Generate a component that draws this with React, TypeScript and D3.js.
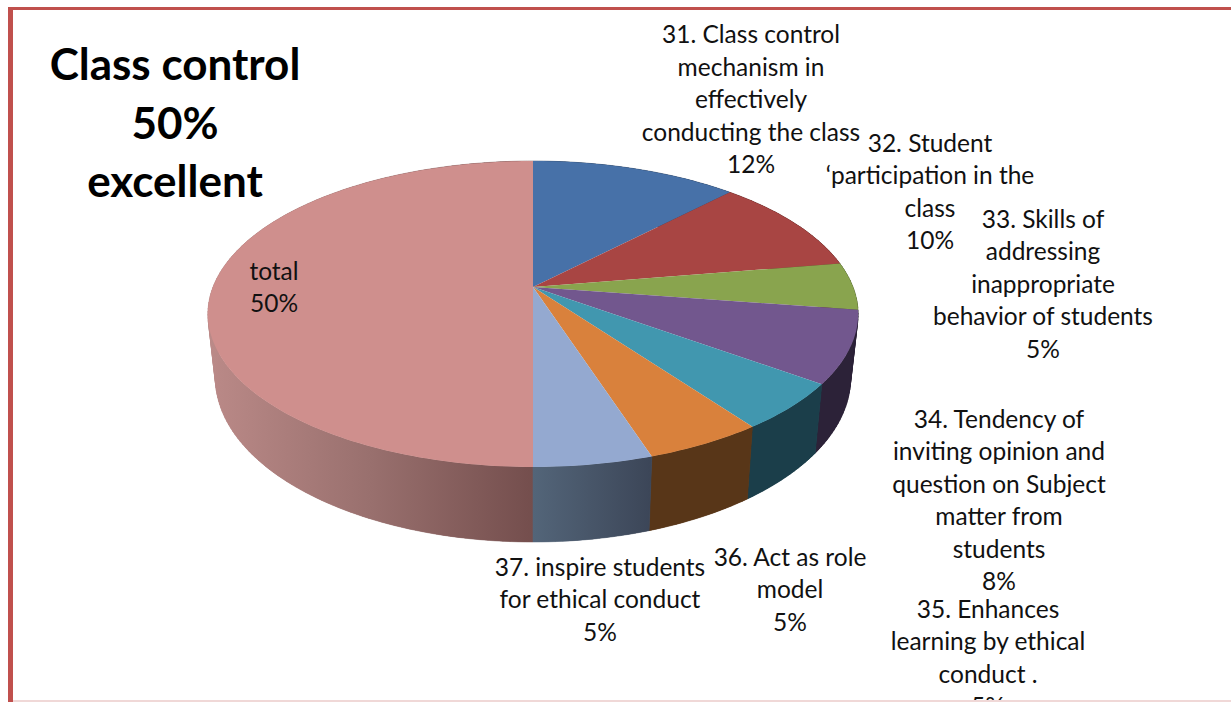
import * as React from "react";
import * as d3 from "d3";

// slice names as wrapped on the chart, values in percent
const labelLines = [
  ["31. Class control", "mechanism in", "effectively", "conducting the class", "12%"],
  ["32. Student", "‘participation in the", "class", "10%"],
  ["33. Skills of", "addressing", "inappropriate", "behavior of students", "5%"],
  ["34. Tendency of", "inviting opinion and", "question on Subject", "matter from", "students", "8%"],
  ["35. Enhances", "learning by ethical", "conduct .", "5%"],
  ["36. Act as role", "model", "5%"],
  ["37. inspire students", "for ethical conduct", "5%"],
  ["total", "50%"],
];
// read from the slice edges, the printed labels are these rounded
const values = [12.2, 10.2, 5, 7.6, 5, 5, 5, 50];
const topColors = ["#4771a8", "#a84543", "#89a44e", "#72578e", "#4197af", "#d9813c", "#94a9d0", "#cf8f8d"];
const sideColors = ["#2a4364", "#642927", "#51622e", "#2c2238", "#1b3e4a", "#583618", "#46546a", "#8f6664"];
const titleLines = ["Class control", "50%", "excellent"];

// label block: centre x, first baseline y
const labelAnchors = [
  [751, 43], [930, 151.5], [1043, 227.5], [999, 427.5],
  [988, 617.5], [790, 565.5], [600, 575.5], [274, 279.5],
];

const width = 1231;
const height = 702;
const lineHeight = 32.5;

// pie is viewed in perspective, so the rim is not a plain ellipse
const pie3d = { cx: 533, cy: 287, rx: 320, ry: 148.2, persp: 0.1765, depth: 61.8, shrink: 0.977 };

function project(angle: number, lower: boolean): [number, number] {
  const u = Math.sin(angle);
  const v = Math.cos(angle);
  const w = 1 + pie3d.persp * v;
  const s = lower ? pie3d.shrink : 1;
  const x = pie3d.cx + (pie3d.rx * s * u) / w;
  const y = pie3d.cy - (pie3d.ry * v) / w + (lower ? pie3d.depth / w : 0);
  return [x, y];
}

function rimAngles(start: number, end: number) {
  const n = Math.max(2, Math.ceil((end - start) / 0.02));
  return d3.range(n + 1).map((i) => start + ((end - start) * i) / n);
}

export default function App() {
  const ref = React.useRef<SVGSVGElement>(null);

  React.useEffect(() => {
    const svg = d3.select(ref.current);
    svg.selectAll("*").remove();

    const defs = svg.append("defs");
    defs.append("clipPath").attr("id", "page").append("rect")
      .attr("width", width).attr("height", 700);

    // the pink and light blue walls are shaded across their width
    const pinkWall = defs.append("linearGradient").attr("id", "pinkWall")
      .attr("gradientUnits", "userSpaceOnUse").attr("x1", 207).attr("x2", 533).attr("y1", 0).attr("y2", 0);
    pinkWall.append("stop").attr("offset", 0).attr("stop-color", "#bb8a88");
    pinkWall.append("stop").attr("offset", 0.5).attr("stop-color", "#99706e");
    pinkWall.append("stop").attr("offset", 1).attr("stop-color", "#744e4d");
    const blueWall = defs.append("linearGradient").attr("id", "blueWall")
      .attr("gradientUnits", "userSpaceOnUse").attr("x1", 533).attr("x2", 650).attr("y1", 0).attr("y2", 0);
    blueWall.append("stop").attr("offset", 0).attr("stop-color", "#536579");
    blueWall.append("stop").attr("offset", 1).attr("stop-color", "#3c4658");

    // frame
    svg.append("rect").attr("x", 8).attr("y", 7).attr("width", width - 8).attr("height", 3).attr("fill", "#c0504d");
    svg.append("rect").attr("x", 8).attr("y", 7).attr("width", 5).attr("height", height - 7).attr("fill", "#c0504d");
    svg.append("rect").attr("x", 13).attr("y", 700).attr("width", width - 13).attr("height", 2).attr("fill", "#f0d8d7");

    const arcs = d3.pie<number>().sort(null).startAngle(0).endAngle(2 * Math.PI)(values);
    const line = d3.line();

    const wallFill = (i: number) => (i === 7 ? "url(#pinkWall)" : i === 6 ? "url(#blueWall)" : sideColors[i]);

    // small quads fill the silhouette where the two rims cross,
    // then one strip on top hides the seams between them
    const wallOrder = d3.range(arcs.length).sort((a, b) =>
      d3.descending(Math.cos((arcs[a].startAngle + arcs[a].endAngle) / 2), Math.cos((arcs[b].startAngle + arcs[b].endAngle) / 2)));
    wallOrder.forEach((i) => {
      const angles = rimAngles(arcs[i].startAngle, arcs[i].endAngle);
      svg.append("g").selectAll("path").data(d3.pairs(angles)).enter().append("path")
        .attr("d", ([a, b]) => line([project(a, false), project(b, false), project(b, true), project(a, true)]) + "Z")
        .attr("fill", wallFill(i))
        .attr("stroke", wallFill(i))
        .attr("stroke-width", 0.5);
      const top = angles.map((a) => project(a, false));
      const bottom = angles.slice().reverse().map((a) => project(a, true));
      svg.append("path").attr("d", line(top.concat(bottom)) + "Z").attr("fill", wallFill(i));
    });

    svg.append("g").selectAll("path").data(arcs).enter().append("path")
      .attr("d", (d) => {
        const rim = rimAngles(d.startAngle, d.endAngle).map((a) => project(a, false));
        return line([[pie3d.cx, pie3d.cy] as [number, number]].concat(rim)) + "Z";
      })
      .attr("fill", (d, i) => topColors[i]);

    const font = "Lato, sans-serif";
    const labels = svg.append("g").attr("clip-path", "url(#page)")
      .attr("font-family", font).attr("font-size", 24.5).attr("fill", "#111").attr("text-anchor", "middle");
    labelLines.forEach((lines, i) => {
      labels.append("g").selectAll("text").data(lines).enter().append("text")
        .attr("x", labelAnchors[i][0])
        .attr("y", (d, j) => labelAnchors[i][1] + j * lineHeight)
        .text((d) => d);
    });

    svg.append("g").attr("font-family", font).attr("font-size", 44).attr("font-weight", "bold")
      .attr("text-anchor", "middle").attr("fill", "#000")
      .selectAll("text").data(titleLines).enter().append("text")
      .attr("x", 175)
      .attr("y", (d, i) => 80 + i * 58.5)
      .text((d) => d);
  }, []);

  return <svg ref={ref} width={width} height={height} style={{ position: "absolute", left: 0, top: 0, background: "#fff" }} />;
}
